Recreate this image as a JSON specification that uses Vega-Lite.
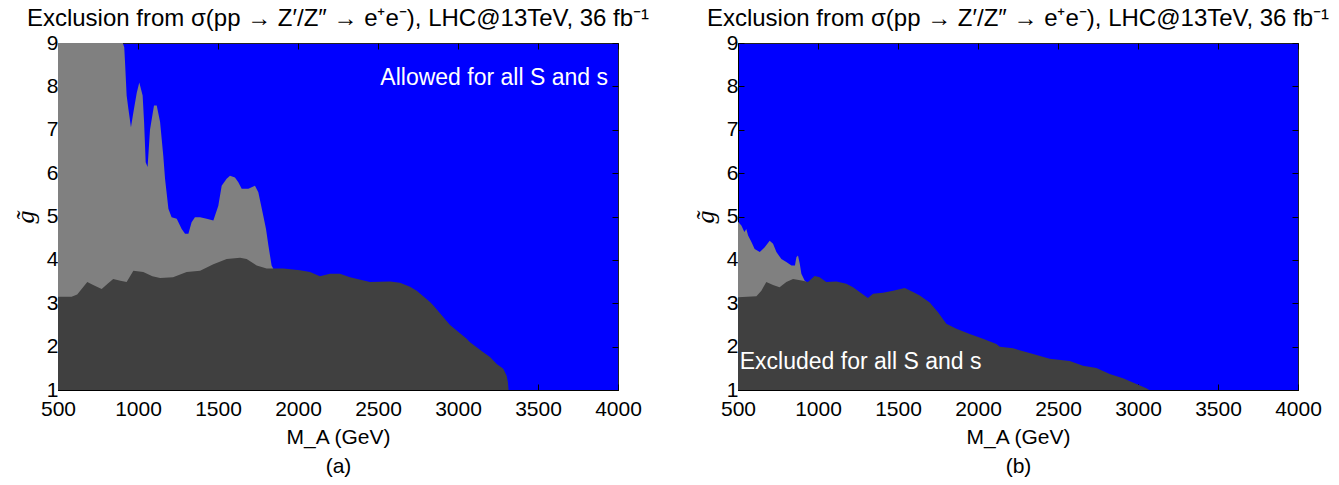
{
  "$schema": "https://vega.github.io/schema/vega-lite/v6.json",
  "background": "white",
  "padding": {"left": 11, "top": 6, "right": 5, "bottom": 5},
  "config": {
    "view": {"fill": "#0000ff", "stroke": "#222222", "strokeWidth": 1},
    "font": "Liberation Sans",
    "axis": {
      "labelFont": "Liberation Sans", "labelFontSize": 21, "labelColor": "black",
      "tickColor": "black", "domainColor": "black", "tickSize": -6, "grid": false,
      "titleFont": "Liberation Sans", "titleFontWeight": "normal", "titleColor": "black", "titleFontSize": 21,
      "labelFlush": false, "labelOverlap": false
    },
    "title": {"font": "Liberation Sans", "fontSize": 24, "fontWeight": "normal", "color": "black", "anchor": "middle", "offset": 1}
  },
  "datasets": {
    "a_dark": [
      {"M": 500, "g": 3.15}, {"M": 585, "g": 3.15}, {"M": 620, "g": 3.2}, {"M": 683, "g": 3.49},
      {"M": 720, "g": 3.42}, {"M": 773, "g": 3.33}, {"M": 810, "g": 3.45}, {"M": 845, "g": 3.56},
      {"M": 890, "g": 3.52}, {"M": 929, "g": 3.49}, {"M": 971, "g": 3.75}, {"M": 1033, "g": 3.72},
      {"M": 1090, "g": 3.62}, {"M": 1138, "g": 3.58}, {"M": 1219, "g": 3.6}, {"M": 1304, "g": 3.72},
      {"M": 1388, "g": 3.75}, {"M": 1471, "g": 3.9}, {"M": 1554, "g": 4.02}, {"M": 1638, "g": 4.05},
      {"M": 1679, "g": 4.02}, {"M": 1742, "g": 3.87}, {"M": 1804, "g": 3.8}, {"M": 1908, "g": 3.8},
      {"M": 2012, "g": 3.76}, {"M": 2075, "g": 3.72}, {"M": 2137, "g": 3.62}, {"M": 2200, "g": 3.68},
      {"M": 2262, "g": 3.68}, {"M": 2325, "g": 3.6}, {"M": 2450, "g": 3.49}, {"M": 2575, "g": 3.5},
      {"M": 2637, "g": 3.47}, {"M": 2700, "g": 3.38}, {"M": 2742, "g": 3.29}, {"M": 2825, "g": 3.03},
      {"M": 2846, "g": 2.95}, {"M": 2950, "g": 2.5}, {"M": 3054, "g": 2.18}, {"M": 3075, "g": 2.1},
      {"M": 3158, "g": 1.87}, {"M": 3200, "g": 1.76}, {"M": 3242, "g": 1.6}, {"M": 3283, "g": 1.49},
      {"M": 3304, "g": 1.33}, {"M": 3312, "g": 1.18}, {"M": 3316, "g": 1.0}
    ],
    "a_light": [
      {"M": 500, "g": 9}, {"M": 905, "g": 9}, {"M": 914, "g": 8.9}, {"M": 919, "g": 8.55},
      {"M": 929, "g": 7.79}, {"M": 940, "g": 7.48}, {"M": 956, "g": 7.06}, {"M": 971, "g": 7.4},
      {"M": 992, "g": 7.85}, {"M": 1008, "g": 8.09}, {"M": 1029, "g": 7.79}, {"M": 1038, "g": 7.18},
      {"M": 1048, "g": 6.25}, {"M": 1060, "g": 6.14}, {"M": 1075, "g": 7.0}, {"M": 1100, "g": 7.56},
      {"M": 1117, "g": 7.56}, {"M": 1138, "g": 7.18}, {"M": 1158, "g": 6.4}, {"M": 1169, "g": 5.87},
      {"M": 1190, "g": 5.18}, {"M": 1210, "g": 4.98}, {"M": 1242, "g": 4.95}, {"M": 1273, "g": 4.71},
      {"M": 1294, "g": 4.6}, {"M": 1315, "g": 4.6}, {"M": 1335, "g": 4.87}, {"M": 1356, "g": 4.98},
      {"M": 1388, "g": 4.98}, {"M": 1429, "g": 4.95}, {"M": 1471, "g": 4.91}, {"M": 1502, "g": 5.25},
      {"M": 1523, "g": 5.71}, {"M": 1554, "g": 5.87}, {"M": 1575, "g": 5.94}, {"M": 1606, "g": 5.9},
      {"M": 1627, "g": 5.79}, {"M": 1648, "g": 5.64}, {"M": 1690, "g": 5.64}, {"M": 1731, "g": 5.71},
      {"M": 1752, "g": 5.56}, {"M": 1783, "g": 5.02}, {"M": 1800, "g": 4.71}, {"M": 1815, "g": 4.33},
      {"M": 1835, "g": 3.87}, {"M": 1845, "g": 3.8}
    ],
    "b_dark": [
      {"M": 500, "g": 3.14}, {"M": 615, "g": 3.16}, {"M": 646, "g": 3.29}, {"M": 677, "g": 3.49},
      {"M": 719, "g": 3.42}, {"M": 760, "g": 3.37}, {"M": 802, "g": 3.49}, {"M": 844, "g": 3.56},
      {"M": 906, "g": 3.52}, {"M": 937, "g": 3.49}, {"M": 979, "g": 3.63}, {"M": 1010, "g": 3.6},
      {"M": 1052, "g": 3.49}, {"M": 1115, "g": 3.5}, {"M": 1177, "g": 3.45}, {"M": 1219, "g": 3.37},
      {"M": 1260, "g": 3.26}, {"M": 1312, "g": 3.12}, {"M": 1344, "g": 3.22}, {"M": 1406, "g": 3.24},
      {"M": 1469, "g": 3.29}, {"M": 1542, "g": 3.35}, {"M": 1594, "g": 3.26}, {"M": 1636, "g": 3.18},
      {"M": 1698, "g": 3.02}, {"M": 1750, "g": 2.79}, {"M": 1802, "g": 2.53}, {"M": 1865, "g": 2.41},
      {"M": 1948, "g": 2.29}, {"M": 2031, "g": 2.18}, {"M": 2115, "g": 2.06}, {"M": 2136, "g": 2.0},
      {"M": 2219, "g": 1.96}, {"M": 2344, "g": 1.83}, {"M": 2448, "g": 1.72}, {"M": 2573, "g": 1.67},
      {"M": 2656, "g": 1.56}, {"M": 2740, "g": 1.51}, {"M": 2823, "g": 1.37}, {"M": 2906, "g": 1.27},
      {"M": 2990, "g": 1.14}, {"M": 3052, "g": 1.04}, {"M": 3070, "g": 1.0}
    ],
    "b_light": [
      {"M": 500, "g": 4.88}, {"M": 521, "g": 4.79}, {"M": 540, "g": 4.64}, {"M": 552, "g": 4.71},
      {"M": 563, "g": 4.56}, {"M": 584, "g": 4.41}, {"M": 604, "g": 4.25}, {"M": 636, "g": 4.18},
      {"M": 667, "g": 4.29}, {"M": 698, "g": 4.44}, {"M": 719, "g": 4.37}, {"M": 740, "g": 4.18},
      {"M": 771, "g": 4.02}, {"M": 802, "g": 3.95}, {"M": 834, "g": 3.87}, {"M": 856, "g": 3.87},
      {"M": 865, "g": 4.06}, {"M": 875, "g": 4.1}, {"M": 886, "g": 3.91}, {"M": 896, "g": 3.68},
      {"M": 917, "g": 3.52}, {"M": 925, "g": 3.5}
    ]
  },
  "spacing": 120,
  "bounds": "flush",
  "hconcat": [
    {
      "width": 560, "height": 347,
      "title": {"text": "Exclusion from σ(pp → Z′/Z″ → e⁺e⁻), LHC@13TeV, 36 fb⁻¹"},
      "layer": [
        {
          "data": {"name": "a_light"},
          "mark": {"type": "area", "color": "#808080", "interpolate": "linear"},
          "encoding": {
            "x": {"field": "M", "type": "quantitative", "scale": {"domain": [500, 4000], "nice": false},
              "axis": {"orient": "bottom", "values": [500, 1000, 1500, 2000, 2500, 3000, 3500, 4000], "format": "d", "labelPadding": 14,
                "title": ["M_A (GeV)", "(a)"], "titleLineHeight": 29, "titlePadding": 7}},
            "y": {"field": "g", "type": "quantitative", "scale": {"domain": [1, 9], "nice": false, "zero": false},
              "axis": {"orient": "left", "values": [1, 2, 3, 4, 5, 6, 7, 8, 9], "format": "d", "labelPadding": 6,
                "title": "g̃", "titleFont": "Liberation Serif", "titleFontStyle": "italic", "titleFontSize": 26, "titlePadding": 8}},
            "y2": {"datum": 1}
          }
        },
        {
          "data": {"name": "a_dark"},
          "mark": {"type": "area", "color": "#404040", "interpolate": "linear"},
          "encoding": {
            "x": {"field": "M", "type": "quantitative",
              "axis": {"orient": "top", "values": [500, 1000, 1500, 2000, 2500, 3000, 3500, 4000], "labels": false, "title": null, "domain": false}},
            "y": {"field": "g", "type": "quantitative",
              "axis": {"orient": "right", "values": [1, 2, 3, 4, 5, 6, 7, 8, 9], "labels": false, "title": null, "domain": false}},
            "y2": {"datum": 1}
          }
        },
        {
          "data": {"values": [{}]},
          "mark": {"type": "text", "text": "Allowed for all S and s", "color": "white", "fontSize": 23, "align": "right", "baseline": "middle", "font": "Liberation Sans"},
          "encoding": {
            "x": {"datum": 3937, "type": "quantitative", "axis": null},
            "y": {"datum": 8.19, "type": "quantitative", "axis": null}
          }
        }
      ],
      "resolve": {"axis": {"x": "independent", "y": "independent"}}
    },
    {
      "width": 560, "height": 347,
      "title": {"text": "Exclusion from σ(pp → Z′/Z″ → e⁺e⁻), LHC@13TeV, 36 fb⁻¹"},
      "layer": [
        {
          "data": {"name": "b_light"},
          "mark": {"type": "area", "color": "#808080", "interpolate": "linear"},
          "encoding": {
            "x": {"field": "M", "type": "quantitative", "scale": {"domain": [500, 4000], "nice": false},
              "axis": {"orient": "bottom", "values": [500, 1000, 1500, 2000, 2500, 3000, 3500, 4000], "format": "d", "labelPadding": 14,
                "title": ["M_A (GeV)", "(b)"], "titleLineHeight": 29, "titlePadding": 7}},
            "y": {"field": "g", "type": "quantitative", "scale": {"domain": [1, 9], "nice": false, "zero": false},
              "axis": {"orient": "left", "values": [1, 2, 3, 4, 5, 6, 7, 8, 9], "format": "d", "labelPadding": 6,
                "title": "g̃", "titleFont": "Liberation Serif", "titleFontStyle": "italic", "titleFontSize": 26, "titlePadding": 8}},
            "y2": {"datum": 1}
          }
        },
        {
          "data": {"name": "b_dark"},
          "mark": {"type": "area", "color": "#404040", "interpolate": "linear"},
          "encoding": {
            "x": {"field": "M", "type": "quantitative",
              "axis": {"orient": "top", "values": [500, 1000, 1500, 2000, 2500, 3000, 3500, 4000], "labels": false, "title": null, "domain": false}},
            "y": {"field": "g", "type": "quantitative",
              "axis": {"orient": "right", "values": [1, 2, 3, 4, 5, 6, 7, 8, 9], "labels": false, "title": null, "domain": false}},
            "y2": {"datum": 1}
          }
        },
        {
          "data": {"values": [{}]},
          "mark": {"type": "text", "text": "Excluded for all S and s", "color": "white", "fontSize": 23, "align": "left", "baseline": "middle", "font": "Liberation Sans"},
          "encoding": {
            "x": {"datum": 511, "type": "quantitative", "axis": null},
            "y": {"datum": 1.65, "type": "quantitative", "axis": null}
          }
        }
      ],
      "resolve": {"axis": {"x": "independent", "y": "independent"}}
    }
  ]
}
